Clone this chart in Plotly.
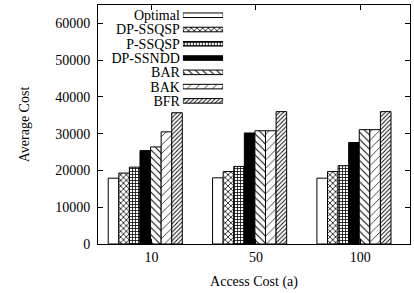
import plotly.graph_objects as go

categories = ["10", "50", "100"]
series_names = ["Optimal", "DP-SSQSP", "P-SSQSP", "DP-SSNDD", "BAR", "BAK", "BFR"]
optimal = [17900, 18000, 17900]
dp_ssqsp = [19300, 19700, 19700]
p_ssqsp = [20900, 21100, 21300]
dp_ssndd = [25400, 30200, 27600]
bar = [26400, 30800, 31100]
bak = [30500, 30800, 31100]
bfr = [35700, 36000, 36000]
y_ticks = [0, 10000, 20000, 30000, 40000, 50000, 60000]

series_values = [optimal, dp_ssqsp, p_ssqsp, dp_ssndd, bar, bak, bfr]

# style per series: (fill colour, pattern shape, pattern size, solidity)
styles = [
    ("white", "", 6, 0.3),
    ("white", "x", 4, 0.35),
    ("white", "+", 3, 0.45),
    ("black", "", 6, 0.3),
    ("white", "\\", 5, 0.2),
    ("white", "/", 6, 0.12),
    ("white", "/", 3, 0.3),
]

FONT = "Liberation Serif, Times New Roman, serif"
xpos = list(range(len(categories)))

fig = go.Figure()
for name, vals, st in zip(series_names, series_values, styles):
    color, shape, size, sol = st
    fig.add_trace(go.Bar(
        x=xpos, y=vals, name=name, showlegend=False,
        marker=dict(color=color, line=dict(color="black", width=1),
                    pattern=dict(shape=shape, fgcolor="black", bgcolor=color,
                                 size=size, solidity=sol, fillmode="replace")),
        xaxis="x", yaxis="y",
    ))

# hand-drawn legend: horizontal bars on an inset axis, names as tick labels
for name, st in zip(series_names, styles):
    color, shape, size, sol = st
    fig.add_trace(go.Bar(
        y=[name], x=[1], orientation="h", showlegend=False,
        width=0.32, offsetgroup="leg",
        marker=dict(color=color, line=dict(color="black", width=1),
                    pattern=dict(shape=shape, fgcolor="black", bgcolor=color,
                                 size=size, solidity=sol, fillmode="replace")),
        xaxis="x2", yaxis="y2", hoverinfo="skip",
    ))

fig.update_layout(
    width=414, height=293, autosize=False,
    margin=dict(l=98, r=4, t=5, b=49, autoexpand=False),
    paper_bgcolor="white", plot_bgcolor="rgba(0,0,0,0)",
    barmode="group", bargap=0.29, bargroupgap=0,
    font=dict(family=FONT, size=14, color="black"),
    xaxis=dict(
        range=[-0.453, 2.537], tickvals=[x + 0.06 for x in xpos], ticktext=categories,
        showgrid=False, zeroline=False, showline=True, linecolor="black", linewidth=1,
        mirror="ticks", ticks="inside", ticklen=5, tickcolor="black", automargin=False,
        title=dict(text="Access Cost (a)", font=dict(size=14), standoff=12),
        tickfont=dict(size=14),
    ),
    yaxis=dict(
        range=[0, 65000], tickvals=y_ticks, ticktext=[str(t) for t in y_ticks],
        showgrid=False, zeroline=False, showline=True, linecolor="black", linewidth=1,
        mirror="ticks", ticks="inside", ticklen=5, tickcolor="black", automargin=False,
        title=dict(text="Average Cost", font=dict(size=14), standoff=22),
        tickfont=dict(size=14), ticklabelstandoff=4,
    ),
    xaxis2=dict(domain=[0.272, 0.401], range=[0, 1], visible=False, anchor="y2"),
    yaxis2=dict(domain=[0.569, 0.987], type="category", categoryorder="array",
                categoryarray=series_names, autorange="reversed", anchor="x2",
                tickmode="array", tickvals=series_names, ticktext=series_names,
                showgrid=False, zeroline=False, showline=False, ticks="", automargin=False,
                tickfont=dict(size=14), ticklabelstandoff=2),
)

post = ("document.documentElement.style.margin='0';"
        "document.body.style.margin='0';document.body.style.padding='0';"
        "document.body.style.overflow='hidden';")
fig.write_html("out.html", config={"responsive": False, "displayModeBar": False},
               post_script=post)
